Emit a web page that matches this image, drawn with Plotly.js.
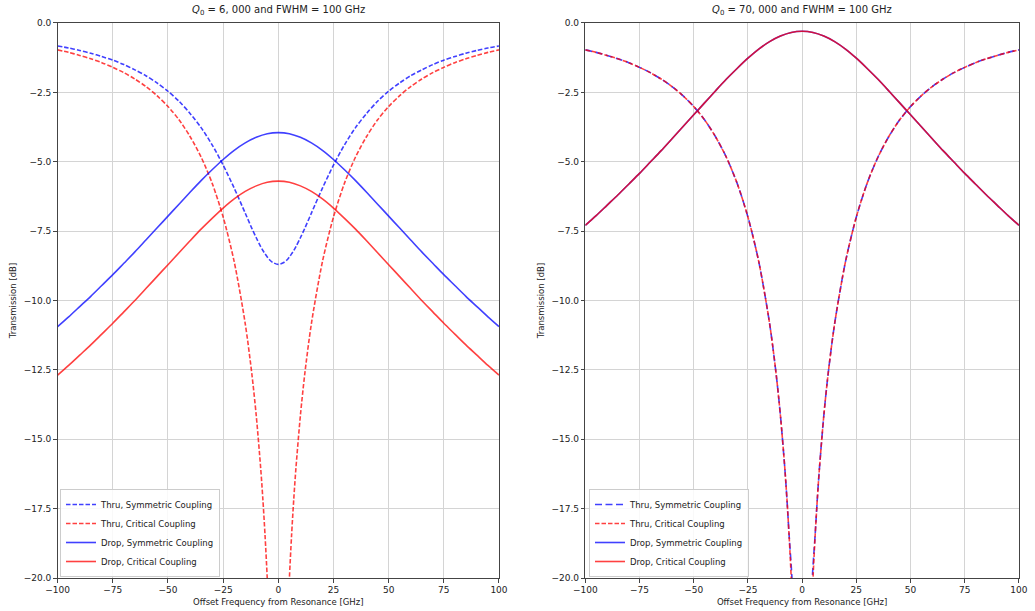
<!DOCTYPE html>
<html>
<head>
<meta charset="utf-8">
<script src="https://cdn.plot.ly/plotly-3.0.1.min.js"></script>
<style>html,body{margin:0;padding:0;background:#fff;overflow:hidden;}#chart{width:1035px;height:611px;}</style>
</head>
<body>
<div id="chart"></div>
<script>
// ---- Data ----
const dropFreqGHz = [-100,-95,-90,-85,-80,-75,-70,-65,-60,-55,-50,-45,-40,-35,-30,-25,-20,-15,-10,-5,0,5,10,15,20,25,30,35,40,45,50,55,60,65,70,75,80,85,90,95,100];
const thruFreqGHz = [-100,-95,-90,-85,-80,-75,-70,-65,-60,-55,-50,-45,-40,-35,-30,-25,-20,-15,-12,-10,-8,-7,-6,-5,-4,-2.5,0,2.5,4,5,6,7,8,10,12,15,20,25,30,35,40,45,50,55,60,65,70,75,80,85,90,95,100];

// Left panel: Q0 = 6,000
const q6k_thruSym  = [-0.83,-0.90,-0.99,-1.09,-1.21,-1.34,-1.50,-1.69,-1.90,-2.16,-2.46,-2.82,-3.26,-3.77,-4.39,-5.12,-5.95,-6.85,-7.40,-7.74,-8.06,-8.20,-8.32,-8.43,-8.53,-8.63,-8.70,-8.63,-8.53,-8.43,-8.32,-8.20,-8.06,-7.74,-7.40,-6.85,-5.95,-5.12,-4.39,-3.77,-3.26,-2.82,-2.46,-2.16,-1.90,-1.69,-1.50,-1.34,-1.21,-1.09,-0.99,-0.90,-0.83];
const q6k_thruCrit = [-0.97,-1.06,-1.17,-1.29,-1.43,-1.60,-1.79,-2.02,-2.29,-2.62,-3.01,-3.49,-4.09,-4.83,-5.77,-6.99,-8.60,-10.83,-12.64,-14.15,-16.03,-17.16,-18.48,-20.04,-21.97,-26.03,null,-26.03,-21.97,-20.04,-18.48,-17.16,-16.03,-14.15,-12.64,-10.83,-8.60,-6.99,-5.77,-4.83,-4.09,-3.49,-3.01,-2.62,-2.29,-2.02,-1.79,-1.60,-1.43,-1.29,-1.17,-1.06,-0.97];
const q6k_dropSym  = [-10.94,-10.59,-10.22,-9.85,-9.46,-9.07,-8.66,-8.25,-7.82,-7.39,-6.96,-6.53,-6.10,-5.68,-5.29,-4.92,-4.59,-4.32,-4.12,-3.99,-3.95,-3.99,-4.12,-4.32,-4.59,-4.92,-5.29,-5.68,-6.10,-6.53,-6.96,-7.39,-7.82,-8.25,-8.66,-9.07,-9.46,-9.85,-10.22,-10.59,-10.94];
const q6k_dropCrit = [-12.69,-12.34,-11.97,-11.60,-11.21,-10.82,-10.41,-10.00,-9.57,-9.14,-8.71,-8.28,-7.85,-7.43,-7.04,-6.67,-6.34,-6.07,-5.87,-5.74,-5.70,-5.74,-5.87,-6.07,-6.34,-6.67,-7.04,-7.43,-7.85,-8.28,-8.71,-9.14,-9.57,-10.00,-10.41,-10.82,-11.21,-11.60,-11.97,-12.34,-12.69];

// Right panel: Q0 = 70,000
const q70k_thruSym  = [-0.97,-1.06,-1.17,-1.29,-1.43,-1.60,-1.79,-2.02,-2.29,-2.62,-3.01,-3.49,-4.09,-4.83,-5.77,-6.99,-8.60,-10.83,-12.64,-14.15,-16.03,-17.16,-18.45,-19.60,-21.00,-23.90,-28.00,-23.90,-21.00,-19.60,-18.45,-17.16,-16.03,-14.15,-12.64,-10.83,-8.60,-6.99,-5.77,-4.83,-4.09,-3.49,-3.01,-2.62,-2.29,-2.02,-1.79,-1.60,-1.43,-1.29,-1.17,-1.06,-0.97];
const q70k_thruCrit = [-0.97,-1.06,-1.17,-1.29,-1.43,-1.60,-1.79,-2.02,-2.29,-2.62,-3.01,-3.49,-4.09,-4.83,-5.77,-6.99,-8.60,-10.83,-12.64,-14.15,-16.03,-17.16,-18.48,-20.04,-21.97,-26.03,null,-26.03,-21.97,-20.04,-18.48,-17.16,-16.03,-14.15,-12.64,-10.83,-8.60,-6.99,-5.77,-4.83,-4.09,-3.49,-3.01,-2.62,-2.29,-2.02,-1.79,-1.60,-1.43,-1.29,-1.17,-1.06,-0.97];
const q70k_dropSym  = [-7.29,-6.94,-6.57,-6.20,-5.81,-5.42,-5.01,-4.60,-4.17,-3.74,-3.31,-2.88,-2.45,-2.03,-1.64,-1.27,-0.94,-0.67,-0.47,-0.34,-0.30,-0.34,-0.47,-0.67,-0.94,-1.27,-1.64,-2.03,-2.45,-2.88,-3.31,-3.74,-4.17,-4.60,-5.01,-5.42,-5.81,-6.20,-6.57,-6.94,-7.29];
const q70k_dropCrit = [-7.29,-6.94,-6.57,-6.20,-5.81,-5.42,-5.01,-4.60,-4.17,-3.74,-3.31,-2.88,-2.45,-2.03,-1.64,-1.27,-0.94,-0.67,-0.47,-0.34,-0.30,-0.34,-0.47,-0.67,-0.94,-1.27,-1.64,-2.03,-2.45,-2.88,-3.31,-3.74,-4.17,-4.60,-5.01,-5.42,-5.81,-6.20,-6.57,-6.94,-7.29];

const xTicks = [-100,-75,-50,-25,0,25,50,75,100];
const yTicks = [0,-2.5,-5,-7.5,-10,-12.5,-15,-17.5,-20];
const seriesNames = ["Thru, Symmetric Coupling","Thru, Critical Coupling","Drop, Symmetric Coupling","Drop, Critical Coupling"];
const panelTitles = ["<i>Q</i><sub>0</sub> = 6, 000 and FWHM = 100 GHz","<i>Q</i><sub>0</sub> = 70, 000 and FWHM = 100 GHz"];
const xTitle = "Offset Frequency from Resonance [GHz]";
const yTitle = "Transmission [dB]";

// ---- Styling ----
const FONT = "DejaVu Sans, Liberation Sans, sans-serif";
const BLUE = "rgba(0,0,255,0.75)";
const RED = "rgba(255,0,0,0.75)";
const LW = 1.6;
const SHORTDASH = "4.5px,2px";
const LONGDASH = "7px,3.5px";
const TICKFONT = {family: FONT, size: 9, color: "#222"};

function trace(x, y, name, color, dash, xa, ya, leg) {
  return {x: x, y: y, name: name, type: "scatter", mode: "lines",
    line: {color: color, width: LW, dash: dash, shape: "spline", smoothing: 0.8},
    xaxis: xa, yaxis: ya, legend: leg, connectgaps: false, hoverinfo: "skip"};
}

const data = [
  trace(thruFreqGHz, q6k_thruSym,  seriesNames[0], BLUE, SHORTDASH, "x", "y", "legend"),
  trace(thruFreqGHz, q6k_thruCrit, seriesNames[1], RED,  SHORTDASH, "x", "y", "legend"),
  trace(dropFreqGHz, q6k_dropSym,  seriesNames[2], BLUE, "solid", "x", "y", "legend"),
  trace(dropFreqGHz, q6k_dropCrit, seriesNames[3], RED,  "solid", "x", "y", "legend"),
  trace(thruFreqGHz, q70k_thruSym,  seriesNames[0], BLUE, LONGDASH, "x2", "y2", "legend2"),
  trace(thruFreqGHz, q70k_thruCrit, seriesNames[1], RED,  SHORTDASH, "x2", "y2", "legend2"),
  trace(dropFreqGHz, q70k_dropSym,  seriesNames[2], BLUE, "solid", "x2", "y2", "legend2"),
  trace(dropFreqGHz, q70k_dropCrit, seriesNames[3], RED,  "solid", "x2", "y2", "legend2")
];

function xAxis(domain, anchor) {
  return {domain: domain, anchor: anchor, range: [-100, 100], autorange: false,
    tickmode: "array", tickvals: xTicks, ticks: "outside", ticklen: 3.5, tickwidth: 1, tickcolor: "#444",
    showline: true, mirror: true, linecolor: "#444", linewidth: 1,
    showgrid: true, gridcolor: "#d4d4d4", gridwidth: 1, zeroline: false,
    ticklabeloverflow: "allow",
    tickfont: TICKFONT,
    title: {text: xTitle, font: {family: FONT, size: 8.5, color: "#222"}, standoff: 4}};
}
function yAxis(domain, anchor) {
  return {domain: domain, anchor: anchor, range: [-20, 0], autorange: false,
    tickmode: "array", tickvals: yTicks, tickformat: ".1f", ticks: "outside", ticklen: 3.5, tickwidth: 1, tickcolor: "#444",
    showline: true, mirror: true, linecolor: "#444", linewidth: 1,
    showgrid: true, gridcolor: "#d4d4d4", gridwidth: 1, zeroline: false,
    ticklabeloverflow: "allow",
    tickfont: TICKFONT,
    title: {text: yTitle, font: {family: FONT, size: 8.5, color: "#222"}, standoff: 5}};
}

const yDom = [0.0540, 0.9624];
const xDomL = [0.0557, 0.4821];
const xDomR = [0.5655, 0.9845];

function legendAt(xpix) {
  return {x: xpix / 1035, y: 1 - 577 / 611, xanchor: "left", yanchor: "bottom",
    bgcolor: "rgba(255,255,255,0.85)", bordercolor: "#cccccc", borderwidth: 1,
    font: {family: FONT, size: 8.5, color: "#222"}, tracegroupgap: 0, itemwidth: 30};
}

const layout = {
  width: 1035, height: 611,
  margin: {l: 0, r: 0, t: 0, b: 0},
  paper_bgcolor: "#ffffff", plot_bgcolor: "#ffffff",
  font: {family: FONT},
  showlegend: true,
  xaxis: xAxis(xDomL, "y"),
  yaxis: yAxis(yDom, "x"),
  xaxis2: xAxis(xDomR, "y2"),
  yaxis2: yAxis(yDom, "x2"),
  legend: legendAt(60),
  legend2: legendAt(589),
  annotations: [
    {text: panelTitles[0], xref: "paper", yref: "paper", x: (xDomL[0] + xDomL[1]) / 2, y: 1 - 11 / 611,
     xanchor: "center", yanchor: "middle", showarrow: false, font: {family: FONT, size: 10, color: "#222"}},
    {text: panelTitles[1], xref: "paper", yref: "paper", x: (xDomR[0] + xDomR[1]) / 2, y: 1 - 11 / 611,
     xanchor: "center", yanchor: "middle", showarrow: false, font: {family: FONT, size: 10, color: "#222"}}
  ]
};

function unhideEdgeLabels(gd) {
  gd.querySelectorAll("g.xtick, g.x2tick").forEach(function (g) {
    [g, g.querySelector("text")].forEach(function (el) {
      if (!el) return;
      el.style.display = "";
      el.style.opacity = "1";
      el.removeAttribute("display");
    });
  });
}

Plotly.newPlot("chart", data, layout, {displayModeBar: false, staticPlot: true}).then(function (gd) {
  unhideEdgeLabels(gd);
  // Fallback: if the last tick label of the right panel is still not shown, add it as text at that axis value
  const lastTick = xTicks[xTicks.length - 1];
  let shown = false;
  gd.querySelectorAll("g.x2tick text").forEach(function (t) {
    const r = t.getBoundingClientRect();
    if (t.textContent.trim() === String(lastTick) && r.width > 0 && r.right <= 1035) shown = true;
  });
  if (!shown) {
    const ann = gd.layout.annotations.slice();
    ann.push({text: String(lastTick), xref: "x2", yref: "paper", x: lastTick, y: yDom[0],
      xanchor: "center", yanchor: "top", yshift: -4, showarrow: false, font: TICKFONT});
    return Plotly.relayout(gd, {annotations: ann});
  }
});
</script>
</body>
</html>
